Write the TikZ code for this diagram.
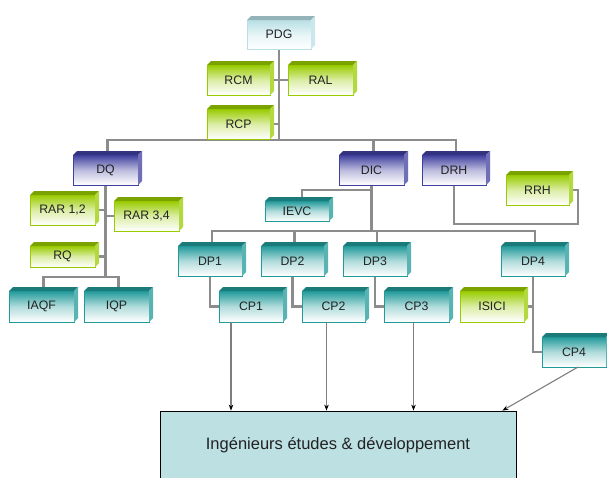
\documentclass[tikz,border=0pt]{standalone}
\usepackage{fontspec}
\setmainfont{Liberation Sans}
\usetikzlibrary{arrows.meta,calc}
\pgfdeclarelayer{back}
\pgfdeclarelayer{bg}
\pgfsetlayers{back,bg,main}
\definecolor{cblue}{HTML}{3F3F9F}
\definecolor{cteal}{HTML}{229A9A}
\definecolor{cgreen}{HTML}{99CC00}
\definecolor{cpale}{HTML}{B8E0E6}
\definecolor{cing}{HTML}{BDE0E3}
\definecolor{cline}{HTML}{8C8C8C}
\definecolor{ctext}{HTML}{222222}
\tikzset{
  facebox/.style={rectangle, inner sep=0pt, outer sep=0pt, line width=0.6pt,
    text=ctext, font=\fontsize{12.3}{14}\selectfont},
  bus/.style={draw=cline, line width=2.8pt},
  arr/.style={draw=cline!90!black, line width=1.1pt, -{Stealth[length=6pt,width=4.5pt,color=black]}},
}
\newcommand\obox[7]{%
  \node[facebox, minimum width={(#4-#2-4)*1pt}, minimum height={(#5-#3-4)*1pt},
        top color=#6, bottom color=white, middle color=#6!35, draw=#6]
        (#1) at ({(#2+#4-4)/2},{(#3+4+#5)/2}) {#7};
  \fill[#6!80!black] (#1.north west) -- ([xshift=4pt,yshift=4pt]#1.north west)
     -- ([xshift=4pt,yshift=4pt]#1.north east) -- (#1.north east) -- cycle;
  \fill[#6!75] (#1.north east) -- ([xshift=4pt,yshift=4pt]#1.north east)
     -- ([xshift=4pt,yshift=4pt]#1.south east) -- (#1.south east) -- cycle;
}
\begin{document}
\begin{tikzpicture}[x=1pt,y=-1pt]
\clip (0,0) rectangle (607,477);
\begin{pgfonlayer}{back}
\fill[white] (0,0) rectangle (607,477);
\end{pgfonlayer}

\obox{PDG}{247}{16}{315}{49}{cpale}{PDG}
\obox{RCM}{207}{61}{274}{95}{cgreen}{RCM}
\obox{RAL}{288}{61}{357}{95}{cgreen}{RAL}
\obox{RCP}{207}{105}{274}{139}{cgreen}{RCP}
\obox{DQ}{73}{151}{142}{185}{cblue}{DQ}
\obox{DIC}{339}{151}{408}{185}{cblue}{DIC}
\obox{DRH}{422}{151}{490}{185}{cblue}{DRH}
\obox{RRH}{506}{171}{573}{205}{cgreen}{RRH}
\obox{RAR12}{30}{191}{99}{225}{cgreen}{RAR 1,2}
\obox{RAR34}{114}{197}{183}{231}{cgreen}{RAR 3,4}
\obox{RQ}{30}{242}{99}{267}{cgreen}{RQ}
\obox{IAQF}{9}{287}{78}{322}{cteal}{IAQF}
\obox{IQP}{84}{287}{153}{322}{cteal}{IQP}
\obox{IEVC}{265}{197}{333}{221}{cteal}{IEVC}
\obox{DP1}{178}{242}{246}{276}{cteal}{DP1}
\obox{DP2}{261}{242}{328}{276}{cteal}{DP2}
\obox{DP3}{343}{242}{411}{276}{cteal}{DP3}
\obox{DP4}{501}{242}{569}{276}{cteal}{DP4}
\obox{CP1}{219}{287}{287}{322}{cteal}{CP1}
\obox{CP2}{302}{287}{369}{322}{cteal}{CP2}
\obox{CP3}{384}{287}{453}{322}{cteal}{CP3}
\obox{ISICI}{460}{287}{528}{322}{cgreen}{ISICI}
\obox{CP4}{542}{333}{610}{367}{cteal}{CP4}

\node[draw=black, fill=cing, line width=0.8pt, minimum width=356pt, minimum height=68pt,
      inner sep=0pt, text=ctext, font=\fontsize{16.5}{19}\selectfont]
      (ING) at (338,445) {Ingénieurs études \& développement};

\coordinate (yA) at (0,140);
\coordinate (yB) at (0,277);
\coordinate (yC) at (0,190);
\coordinate (yD) at (0,231);
\coordinate (cR) at (578,224);

\begin{pgfonlayer}{bg}
\draw[bus] (PDG.south) -- (PDG.south |- yA);
\draw[bus] ([xshift=2pt]DQ.north) |- ($(DRH.north |- yA)+(2,0)$) -- ([xshift=2pt]DRH.north);
\draw[bus] ([xshift=2pt]DIC.north) -- ($(DIC.north |- yA)+(2,0)$);
\draw[bus] (RCM.east) -- (RAL.west);
\draw[bus] (RCP.east) -- (RCP.east -| PDG.south);
\draw[bus] (DQ.south) -- (DQ.south |- yB);
\draw[bus] ([xshift=2pt]IAQF.north) |- ($(IQP.north |- yB)+(2,0)$) -- ([xshift=2pt]IQP.north);
\draw[bus] (RAR12.east) -- (RAR12.east -| DQ.south);
\draw[bus] (RAR34.west) -- (RAR34.west -| DQ.south);
\draw[bus] (RQ.east) -- (RQ.east -| DQ.south);
\draw[bus] (DIC.south) -- (DIC.south |- yD);
\draw[bus] (DIC.south |- yC) -| ([xshift=5pt]IEVC.north);
\draw[bus] ([xshift=2pt]DP1.north) |- ($(DP4.north |- yD)+(2,0)$) -- ([xshift=2pt]DP4.north);
\draw[bus] ([xshift=2pt]DP2.north) -- ($(DP2.north |- yD)+(2,0)$);
\draw[bus] ([xshift=2pt]DP3.north) -- ($(DP3.north |- yD)+(2,0)$);
\draw[bus] (DP1.south) |- (CP1.west);
\draw[bus] (DP2.south) |- (CP2.west);
\draw[bus] (DP3.south) |- (CP3.west);
\draw[bus] (DP4.south) |- (CP4.west);
\draw[bus] (ISICI.east) -- (ISICI.east -| DP4.south);
\draw[bus] (DRH.south) |- (cR) |- (RRH.east);
\end{pgfonlayer}

\draw[arr] ([xshift=-20pt]CP1.south) -- ([xshift=-20pt]CP1.south |- ING.north);
\draw[arr] ([xshift=-7pt]CP2.south) -- ([xshift=-7pt]CP2.south |- ING.north);
\draw[arr] ([xshift=-3pt]CP3.south) -- ([xshift=-3pt]CP3.south |- ING.north);
\draw[arr] ([xshift=4pt]CP4.south) -- ([xshift=-14pt]ING.north east);
\end{tikzpicture}
\end{document}
